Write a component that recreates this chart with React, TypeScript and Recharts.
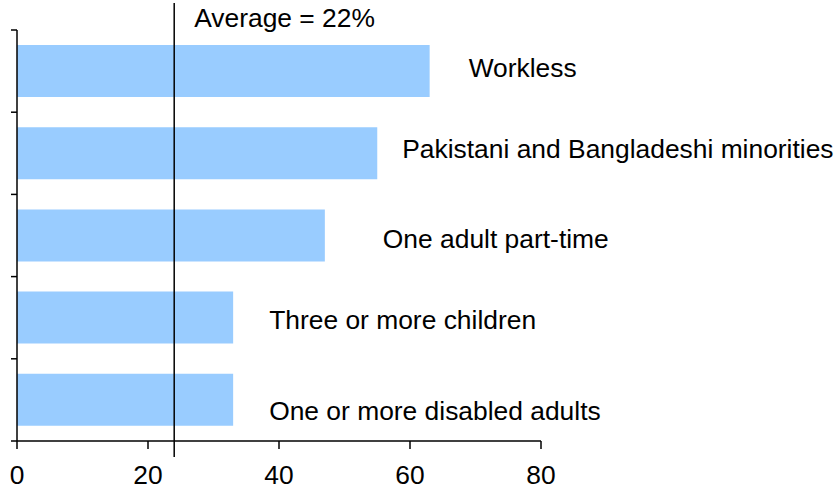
import React from "react";
import { BarChart, Bar, XAxis, YAxis, ReferenceLine, LabelList } from "recharts";

const categories = [
  "Workless",
  "Pakistani and Bangladeshi minorities",
  "One adult part-time",
  "Three or more children",
  "One or more disabled adults",
];
const values = [63, 55, 47, 33, 33];
const xTicks = [0, 20, 40, 60, 80];
const averageValue = 24;
const averageLabel = "Average = 22%";

const data = categories.map((name, i) => ({ name, value: values[i] }));

// layout / style constants
const W = 837;
const H = 490;
const TOP = 30;
const X_AXIS_H = 49;
const FONT = "'Liberation Sans', Arial, sans-serif";
const FONT_SIZE = 26.4;
const BAND = (H - X_AXIS_H - TOP) / categories.length;
// where each row's text sits relative to its bar end / bar middle (baseline)
const LABEL_DX = [39, 25, 58, 36, 36];
const LABEL_DY = [5.5, 4.5, 12.5, 11.5, 20.5];

function BoundaryTick(props: any) {
  const { x, y, index } = props;
  const last = index === categories.length - 1;
  return (
    <g>
      <line x1={x - 6} x2={x} y1={y - BAND / 2} y2={y - BAND / 2} stroke="#000" strokeWidth={1.5} />
      {last && (
        <line x1={x - 6} x2={x} y1={y + BAND / 2} y2={y + BAND / 2} stroke="#000" strokeWidth={1.5} />
      )}
    </g>
  );
}

function RowLabel(props: any) {
  const { x, y, width, height, value, index } = props;
  return (
    <text
      x={x + width + LABEL_DX[index]}
      y={y + height / 2 + LABEL_DY[index]}
      fontSize={FONT_SIZE}
      fontFamily={FONT}
      fill="#000"
    >
      {value}
    </text>
  );
}

function AverageLine(props: any) {
  const { x1, x2, y1, y2 } = props;
  const top = Math.min(y1, y2);
  const bottom = Math.max(y1, y2);
  return (
    <g>
      <line x1={x1} x2={x2} y1={top - 27} y2={bottom + 16} stroke="#000" strokeWidth={1.5} />
      <text x={x1 + 20} y={27} fontSize={FONT_SIZE} fontFamily={FONT} fill="#000">
        {averageLabel}
      </text>
    </g>
  );
}

export default function App() {
  return (
    <div style={{ position: "absolute", left: 0, top: 0, background: "#fff" }}>
      <BarChart
        width={W}
        height={H}
        data={data}
        layout="vertical"
        margin={{ top: TOP, right: 296, bottom: 0, left: 0 }}
      >
        <XAxis
          type="number"
          domain={[0, 80]}
          ticks={xTicks}
          height={X_AXIS_H}
          tickSize={8}
          tickMargin={16}
          axisLine={{ stroke: "#000", strokeWidth: 1.5 }}
          tickLine={{ stroke: "#000", strokeWidth: 1.5 }}
          tick={{ fill: "#000", fontSize: FONT_SIZE, fontFamily: FONT }}
          interval={0}
        />
        <YAxis
          type="category"
          dataKey="name"
          width={17}
          tickSize={0}
          tickMargin={0}
          tickLine={false}
          axisLine={{ stroke: "#000", strokeWidth: 1.5 }}
          tick={<BoundaryTick />}
          interval={0}
        />
        <Bar dataKey="value" fill="#99CCFF" barSize={52} isAnimationActive={false}>
          <LabelList dataKey="name" content={<RowLabel />} />
        </Bar>
        <ReferenceLine x={averageValue} ifOverflow="visible" shape={<AverageLine />} />
      </BarChart>
    </div>
  );
}
